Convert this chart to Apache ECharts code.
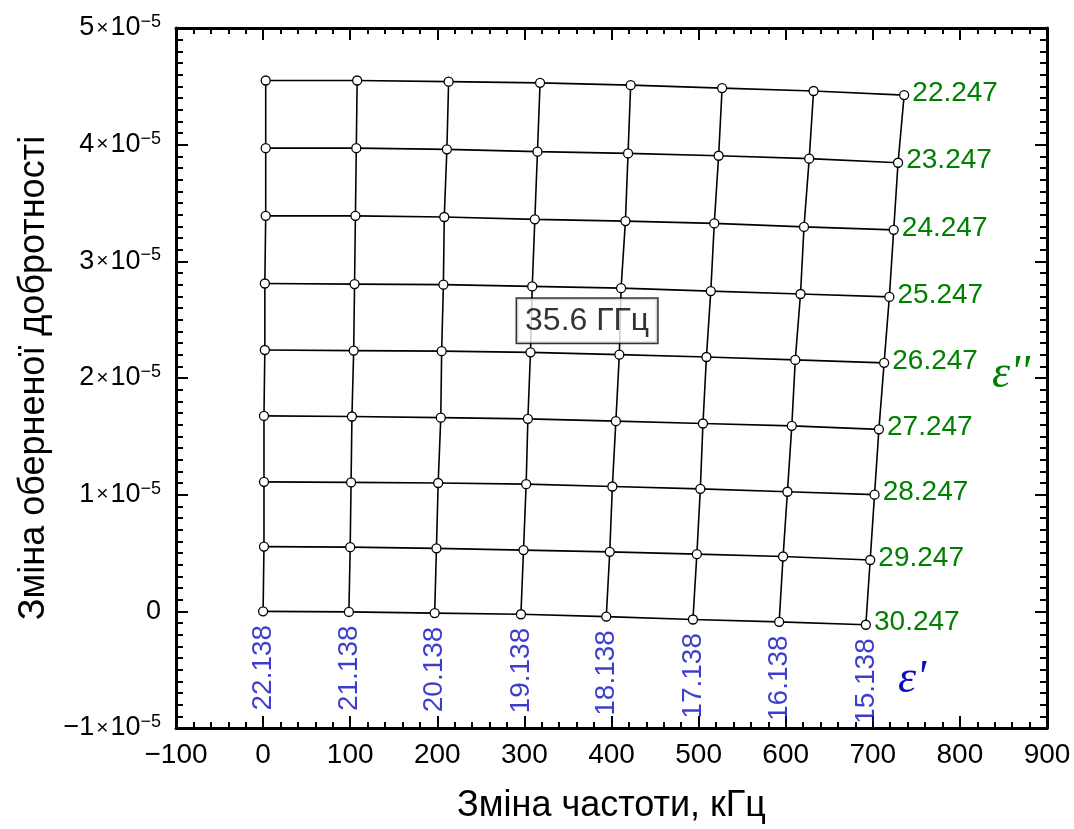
<!DOCTYPE html>
<html>
<head>
<meta charset="utf-8">
<script src="https://cdn.jsdelivr.net/npm/echarts@6/dist/echarts.min.js"></script>
<style>
html,body{margin:0;padding:0;background:#fff;}
#chart{width:1074px;height:829px;}
</style>
</head>
<body>
<div id="chart"></div>
<script>
// ε'' row labels (one per row, top to bottom)
const epsDoublePrime = ['22.247','23.247','24.247','25.247','26.247','27.247','28.247','29.247','30.247'];
// ε' column labels (one per column, left to right)
const epsPrime = ['22.138','21.138','20.138','19.138','18.138','17.138','16.138','15.138'];

// frequency shift, kHz (per ε'' row)
const f_22247 = [3, 108, 213, 318, 422, 527, 632, 736];
const f_23247 = [3, 107, 211, 315, 419, 523, 627, 729];
const f_24247 = [3, 106, 208, 312, 416, 518, 621, 724];
const f_25247 = [2, 105, 207, 309, 411, 514, 617, 719];
const f_26247 = [2, 104, 205, 307, 409, 509, 611, 713];
const f_27247 = [1, 102, 204, 304, 405, 505, 607, 707];
const f_28247 = [1, 101, 201, 302, 401, 502, 602, 702];
const f_29247 = [1, 100, 199, 299, 398, 498, 597, 697];
const f_30247 = [0, 98.5, 197, 296, 394, 493.5, 592.5, 692];

// change of inverse Q-factor, units of 1e-6 (per ε'' row)
const q_22247 = [45.5, 45.5, 45.4, 45.3, 45.1, 44.85, 44.6, 44.25];
const q_23247 = [39.7, 39.7, 39.6, 39.4, 39.25, 39.05, 38.8, 38.45];
const q_24247 = [33.9, 33.9, 33.8, 33.6, 33.45, 33.25, 32.95, 32.7];
const q_25247 = [28.1, 28.05, 28.0, 27.85, 27.7, 27.45, 27.2, 26.95];
const q_26247 = [22.4, 22.35, 22.3, 22.2, 22.0, 21.8, 21.55, 21.3];
const q_27247 = [16.75, 16.7, 16.6, 16.5, 16.3, 16.1, 15.9, 15.6];
const q_28247 = [11.1, 11.05, 11.0, 10.9, 10.7, 10.5, 10.25, 10.0];
const q_29247 = [5.55, 5.5, 5.4, 5.25, 5.1, 4.9, 4.7, 4.4];
const q_30247 = [0, -0.05, -0.15, -0.25, -0.45, -0.7, -0.9, -1.15];

const xTicks = [-100, 0, 100, 200, 300, 400, 500, 600, 700, 800, 900];
const yTicks = [-10, 0, 10, 20, 30, 40, 50]; // ×1e-6
const annotationText = '35.6 ГГц';
const annotationAt = [372, 24.9];

const fRows = [f_22247, f_23247, f_24247, f_25247, f_26247, f_27247, f_28247, f_29247, f_30247];
const qRows = [q_22247, q_23247, q_24247, q_25247, q_26247, q_27247, q_28247, q_29247, q_30247];

const FONT = '"Liberation Sans", Arial, sans-serif';
const GREEN = '#008000';
const BLUE = '#0c0cc0';

const series = [];
// column lines (constant ε')
for (let j = 0; j < epsPrime.length; j++) {
  series.push({
    type: 'line', name: 'col' + j, silent: true, showSymbol: false, symbol: 'none',
    lineStyle: {color: '#000', width: 1.6}, z: 2,
    data: fRows.map((r, i) => [r[j], qRows[i][j]])
  });
}
// row lines (constant ε'') with markers and green labels
for (let i = 0; i < epsDoublePrime.length; i++) {
  const last = fRows[i].length - 1;
  series.push({
    type: 'line', name: 'row' + i, silent: true,
    symbol: 'circle', symbolSize: 9, showSymbol: true,
    itemStyle: {color: '#fff', borderColor: '#000', borderWidth: 1.3},
    lineStyle: {color: '#000', width: 1.6}, z: 3,
    data: fRows[i].map((x, j) => {
      const d = {value: [x, qRows[i][j]]};
      if (j === last) {
        d.label = {show: true, position: 'right', distance: 3, offset: [0, -2],
          formatter: epsDoublePrime[i], color: GREEN, fontSize: 28, fontFamily: FONT};
      }
      return d;
    })
  });
}
// blue ε' labels below the bottom row
const bottom = fRows.length - 1;
series.push({
  type: 'scatter', name: 'epsPrimeLabels', silent: true, symbolSize: 1,
  itemStyle: {color: 'rgba(0,0,0,0)'}, z: 4,
  data: fRows[bottom].map((x, j) => ({
    value: [x, qRows[bottom][j]],
    label: {show: true, formatter: epsPrime[j]}
  })),
  label: {position: 'bottom', distance: 16, rotate: 90, align: 'right', verticalAlign: 'middle',
    color: BLUE, fontSize: 28, fontFamily: FONT, offset: [3, 0]}
});
// annotation box
series.push({
  type: 'scatter', name: 'annotation', silent: true, symbolSize: 1,
  itemStyle: {color: 'rgba(0,0,0,0)'}, z: 5,
  data: [{value: annotationAt, label: {show: true, position: 'inside', formatter: annotationText,
    color: '#000', fontSize: 32, fontFamily: FONT, backgroundColor: '#fff',
    borderColor: '#000', borderWidth: 1.5, padding: [7, 8, 5, 8]}}]
});

const xFmt = v => (v < 0 ? '−' + Math.abs(v) : String(v));
const yFmt = v => {
  if (Math.abs(v) < 1e-9) return '{m|0}';
  const k = v / 10;
  return '{m|' + (k < 0 ? '−' : '') + Math.abs(k) + '}{x|×}{m|10}{s|−5}';
};

const tickCommon = {inside: true, length: 12, lineStyle: {color: '#000', width: 2}};
const minorX = {show: true, splitNumber: 5, length: 6, lineStyle: {color: '#000', width: 2}};
const minorY = {show: true, splitNumber: 10, length: 7, lineStyle: {color: '#000', width: 2}};
const lineCommon = {show: true, onZero: false, lineStyle: {color: '#000', width: 3}};

const option = {
  animation: false,
  backgroundColor: '#fff',
  grid: {left: 176, right: 27, top: 28, bottom: 99, containLabel: false},
  xAxis: [
    {type: 'value', position: 'bottom', min: xTicks[0], max: xTicks[xTicks.length - 1], interval: 100,
     axisLine: lineCommon, axisTick: tickCommon, minorTick: minorX, splitLine: {show: false},
     axisLabel: {formatter: xFmt, fontSize: 28, color: '#000', margin: 13, fontFamily: FONT},
     name: 'Зміна частоти, кГц', nameLocation: 'middle', nameGap: 60,
     nameTextStyle: {fontSize: 36, color: '#000', fontFamily: FONT}},
    {type: 'value', position: 'top', min: xTicks[0], max: xTicks[xTicks.length - 1], interval: 100,
     axisLine: lineCommon, axisTick: tickCommon, minorTick: minorX, splitLine: {show: false},
     axisLabel: {show: false}}
  ],
  yAxis: [
    {type: 'value', position: 'left', min: yTicks[0], max: yTicks[yTicks.length - 1], interval: 10,
     axisLine: lineCommon, axisTick: tickCommon, minorTick: minorY, splitLine: {show: false},
     axisLabel: {formatter: yFmt, margin: 15, color: '#000',
       rich: {m: {fontSize: 27, color: '#000', fontFamily: FONT, lineHeight: 30},
              x: {fontSize: 21, color: '#000', fontFamily: FONT, lineHeight: 30, padding: [0, 2, 0, 2]},
              s: {fontSize: 18, color: '#000', fontFamily: FONT, verticalAlign: 'top', lineHeight: 17}}},
     name: 'Зміна оберненої добротності', nameLocation: 'middle', nameGap: 117,
     nameTextStyle: {fontSize: 36, color: '#000', fontFamily: FONT}},
    {type: 'value', position: 'right', min: yTicks[0], max: yTicks[yTicks.length - 1], interval: 10,
     axisLine: lineCommon, axisTick: tickCommon, minorTick: minorY, splitLine: {show: false},
     axisLabel: {show: false}}
  ],
  graphic: [
    {type: 'text', left: 992, top: 352, silent: true,
     style: {text: "ε''", fill: GREEN, font: 'italic 46px "Liberation Serif", serif'}},
    {type: 'text', left: 898, top: 657, silent: true,
     style: {text: "ε'", fill: BLUE, font: 'italic 46px "Liberation Serif", serif'}}
  ],
  series: series.map(s => Object.assign({xAxisIndex: 0, yAxisIndex: 0}, s))
};

const chart = echarts.init(document.getElementById('chart'), null, {renderer: 'canvas'});
chart.setOption(option);
</script>
</body>
</html>
